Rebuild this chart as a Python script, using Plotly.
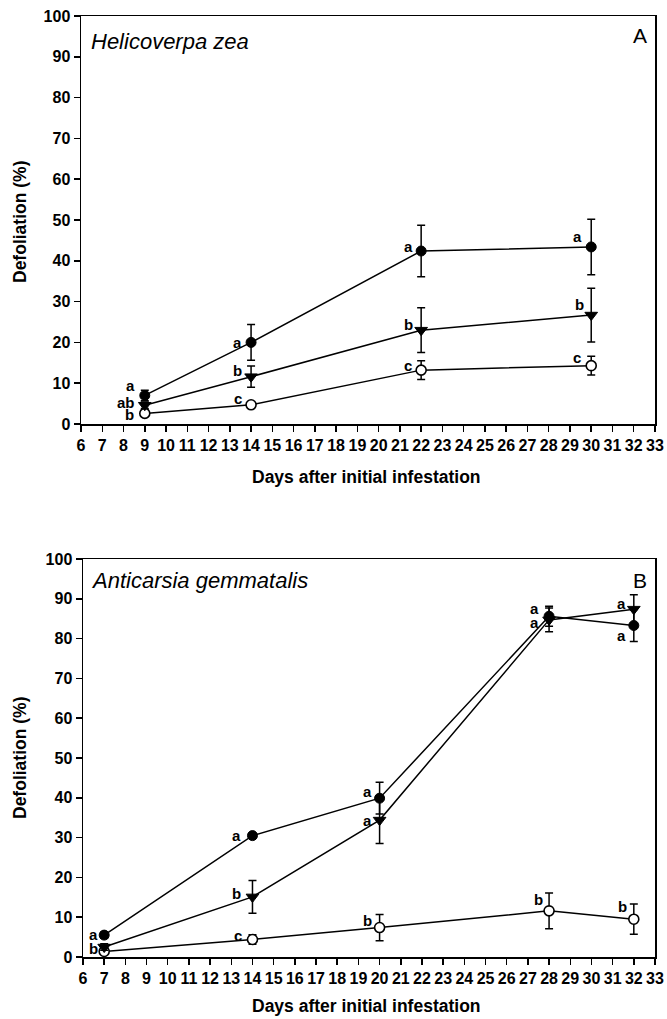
import plotly.graph_objects as go

# ---------------- data ----------------
days_A = [9, 14, 22, 30]
hz_filled = [7.0, 20.0, 42.4, 43.4]
hz_filled_err = [1.3, 4.4, 6.3, 6.8]
hz_tri = [4.6, 11.6, 23.0, 26.7]
hz_tri_err = [0.8, 2.6, 5.5, 6.6]
hz_open = [2.6, 4.7, 13.2, 14.3]
hz_open_err = [0.5, 0.5, 2.3, 2.3]
hz_filled_let = ["a", "a", "a", "a"]
hz_tri_let = ["ab", "b", "b", "b"]
hz_open_let = ["b", "c", "c", "c"]

days_B = [7, 14, 20, 28, 32]
ag_filled = [5.5, 30.5, 39.9, 85.6, 83.3]
ag_filled_err = [0.8, 0.6, 4.0, 2.5, 4.0]
ag_tri = [2.5, 15.1, 34.4, 84.7, 87.4]
ag_tri_err = [0.8, 4.1, 5.9, 3.0, 3.6]
ag_open = [1.4, 4.4, 7.4, 11.6, 9.5]
ag_open_err = [0.6, 1.2, 3.3, 4.5, 3.8]
ag_filled_let = ["a", "a", "a", "a", "a"]
ag_tri_let = ["", "b", "a", "a", "a"]
ag_open_let = ["b", "c", "b", "b", "b"]

x_ticks = list(range(6, 34))
y_ticks = list(range(0, 101, 10))

# ---------------- styling ----------------
W, H = 667, 1019
FONT = "Liberation Sans, Arial, sans-serif"

def px_x(p):
    return p / W

def px_y(p):
    return 1 - p / H

dom_A_x = [px_x(81), px_x(655)]
dom_A_y = [px_y(424), px_y(16)]
dom_B_x = [px_x(83), px_x(655)]
dom_B_y = [px_y(957), px_y(559)]

# label offsets (xshift, yshift) in pixels
off_A = {
    "filled": [(-14, 10), (-14, 0), (-13, 5), (-14, 10)],
    "tri": [(-19, 3), (-14, 6), (-13, 6), (-12, 11)],
    "open": [(-15, -1), (-13, 6), (-13, 5), (-14, 8)],
}
off_B = {
    "filled": [(-11, 1), (-16, 0), (-12, 7), (-15, 8), (-12, -10)],
    "tri": [(-11, 0), (-16, 3), (-12, 0), (-15, -3), (-12, 6)],
    "open": [(-11, 3), (-14, 4), (-12, 7), (-11, 11), (-11, 13)],
}

marker_styles = {
    "filled": dict(symbol="circle", size=10, color="black", line=dict(color="black", width=1)),
    "tri": dict(symbol="triangle-down", size=11, color="black", line=dict(color="black", width=1)),
    "open": dict(symbol="circle", size=10, color="white", line=dict(color="black", width=1.6)),
}

fig = go.Figure()
annotations = []

def add_series(xs, ys, errs, letters, kind, xa, ya, offs):
    fig.add_trace(go.Scatter(
        x=xs, y=ys, mode="lines+markers",
        line=dict(color="black", width=1.5),
        marker=marker_styles[kind],
        error_y=dict(type="data", array=errs, visible=True,
                     color="black", thickness=1.5, width=4),
        xaxis=xa, yaxis=ya, showlegend=False, cliponaxis=False,
    ))
    for i, (xv, yv, lt) in enumerate(zip(xs, ys, letters)):
        if not lt:
            continue
        dx, dy = offs[kind][i]
        annotations.append(dict(
            x=xv, y=yv, xref=xa, yref=ya, text=lt, showarrow=False,
            xshift=dx, yshift=dy, xanchor="center", yanchor="middle",
            font=dict(family=FONT, size=15, color="black", weight="bold"),
        ))

# Panel A
add_series(days_A, hz_open, hz_open_err, hz_open_let, "open", "x", "y", off_A)
add_series(days_A, hz_tri, hz_tri_err, hz_tri_let, "tri", "x", "y", off_A)
add_series(days_A, hz_filled, hz_filled_err, hz_filled_let, "filled", "x", "y", off_A)
# Panel B
add_series(days_B, ag_open, ag_open_err, ag_open_let, "open", "x2", "y2", off_B)
add_series(days_B, ag_tri, ag_tri_err, ag_tri_let, "tri", "x2", "y2", off_B)
add_series(days_B, ag_filled, ag_filled_err, ag_filled_let, "filled", "x2", "y2", off_B)

tickfont = dict(family=FONT, size=16, color="black", weight="bold")

def xaxis_cfg(dom, anchor):
    return dict(domain=dom, anchor=anchor, range=[6, 33], tickmode="array",
                tickvals=x_ticks, ticktext=[str(v) for v in x_ticks],
                ticks="outside", ticklen=6, tickwidth=1.5, tickcolor="black",
                showline=True, linecolor="black", linewidth=1.5, mirror=True,
                showgrid=False, zeroline=False, tickfont=tickfont,
                automargin=False, fixedrange=True)

def yaxis_cfg(dom, anchor):
    return dict(domain=dom, anchor=anchor, range=[0, 100], tickmode="array",
                tickvals=y_ticks, ticktext=[str(v) for v in y_ticks],
                ticks="outside", ticklen=6, tickwidth=1.5, tickcolor="black",
                showline=True, linecolor="black", linewidth=1.5, mirror=True,
                showgrid=False, zeroline=False, tickfont=tickfont,
                automargin=False, fixedrange=True)

titlefont = dict(family=FONT, size=17.5, color="black", weight="bold")

# Axis titles and panel texts
for (cy, label_y, sp_text, sp_y, panel, pan_y) in [
    (222, 477, "Helicoverpa zea", 42, "A", 35),
    (758, 1006, "Anticarsia gemmatalis", 580, "B", 580),
]:
    annotations.append(dict(x=px_x(20), y=px_y(cy), xref="paper", yref="paper",
                            text="Defoliation (%)", textangle=-90, showarrow=False,
                            xanchor="center", yanchor="middle", font=titlefont))
    annotations.append(dict(x=px_x(366), y=px_y(label_y), xref="paper", yref="paper",
                            text="Days after initial infestation", showarrow=False,
                            xanchor="center", yanchor="middle", font=titlefont))
    annotations.append(dict(x=px_x(89), y=px_y(sp_y), xref="paper", yref="paper",
                            text="<i>" + sp_text + "</i>", showarrow=False,
                            xanchor="left", yanchor="middle",
                            font=dict(family=FONT, size=22, color="black")))
    annotations.append(dict(x=px_x(649), y=px_y(pan_y), xref="paper", yref="paper",
                            text=panel, showarrow=False,
                            xanchor="right", yanchor="middle",
                            font=dict(family=FONT, size=21, color="black")))

fig.update_layout(
    width=W, height=H,
    margin=dict(l=0, r=0, t=0, b=0),
    paper_bgcolor="white", plot_bgcolor="white",
    template="none",
    xaxis=xaxis_cfg(dom_A_x, "y"),
    yaxis=yaxis_cfg(dom_A_y, "x"),
    xaxis2=xaxis_cfg(dom_B_x, "y2"),
    yaxis2=yaxis_cfg(dom_B_y, "x2"),
    annotations=annotations,
    showlegend=False,
)

fig.write_html("out.html", config={"displayModeBar": False, "staticPlot": True})

# remove the default page margin so the figure fills the window exactly
with open("out.html", "r", encoding="utf-8") as f:
    html = f.read()
html = html.replace("<head>", "<head><style>html,body{margin:0;padding:0;overflow:hidden;}</style>", 1)
with open("out.html", "w", encoding="utf-8") as f:
    f.write(html)
